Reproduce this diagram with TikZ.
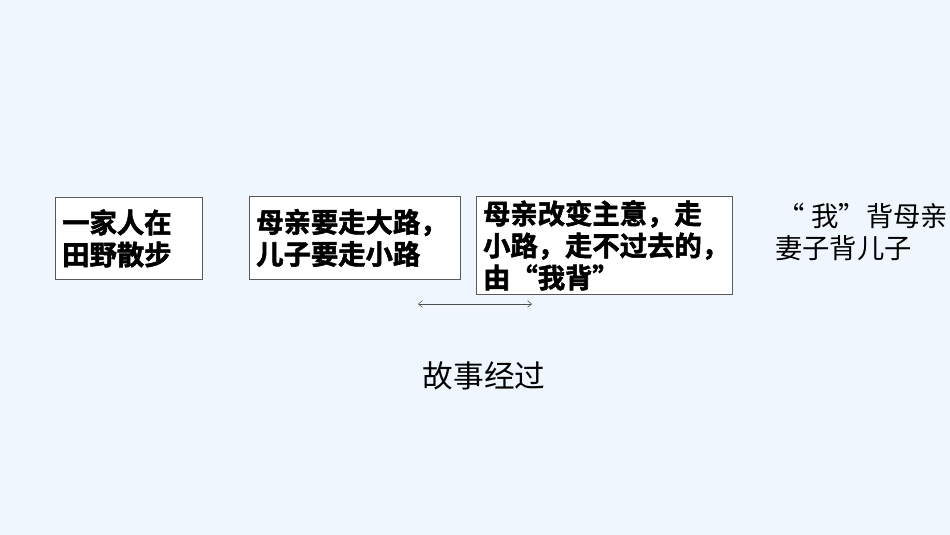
\documentclass[tikz,border=0pt]{standalone}
\usepackage{fontspec}
\newfontfamily\cjk{Noto Sans CJK SC}[BoldFont={Noto Sans CJK SC Bold}, BoldFeatures={FakeBold=2}]
\usetikzlibrary{arrows.meta}
\definecolor{pagebg}{RGB}{239,246,253}
\definecolor{boxline}{RGB}{90,90,90}
\tikzset{
  storybox/.style={draw=boxline, fill=white, line width=0.6pt, anchor=north west,
    inner xsep=5pt, inner ysep=0pt, align=left,
    font=\cjk\bfseries\fontsize{20.5pt}{24pt}\selectfont},
  plaintext/.style={anchor=north west, inner sep=0pt, align=left,
    font=\cjk\fontsize{20.5pt}{24pt}\selectfont}
}
\begin{document}
\begin{tikzpicture}[x=0.75pt, y=-0.75pt]
  \fill[pagebg] (0,0) rectangle (950,535);
  \useasboundingbox (0,0) rectangle (950,535);
  % the three story boxes
  \node [storybox, text width=100pt, minimum width=110.25pt, minimum height=61.5pt] (walk) at (55,197)
    {一家人在\\田野散步};
  \node [storybox, text width=148pt, minimum width=158.25pt, minimum height=62.25pt] (road) at (249,196)
    {母亲要走大路，\\儿子要走小路};
  \node [storybox, text width=182pt, minimum width=192pt, minimum height=73.5pt] (change) at (476,196)
    {母亲改变主意，走\\小路，走不过去的，\\由“我背”};
  \node [plaintext] (carry) at (775,203)
    {\hspace*{2pt}“ 我”背母亲\\妻子背儿子};
  % arrow under the boxes
  \coordinate (al) at (418,304);
  \coordinate (ar) at (532,304);
  \draw [{Straight Barb[length=3pt,width=5pt]}-{Straight Barb[length=3pt,width=5pt]}, line width=0.4pt, black!70] (al) -- (ar);
  \node [font=\cjk\fontsize{23pt}{26pt}\selectfont] (title) at (484,376) {故事经过};
\end{tikzpicture}
\end{document}
